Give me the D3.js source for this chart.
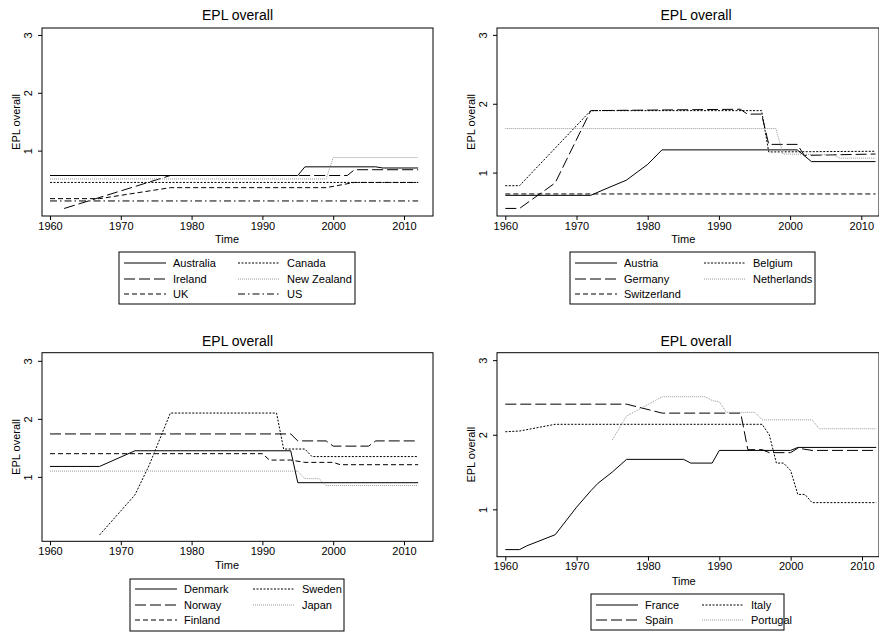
<!DOCTYPE html>
<html>
<head>
<meta charset="utf-8">
<script src="https://cdn.jsdelivr.net/npm/d3@7"></script>
<style>
body { margin: 0; background: #fff; }
svg text { font-family: "Liberation Sans", Arimo, Arial, sans-serif !important; fill: #000; }
</style>
</head>
<body>
<div id="chart"></div>
<script>
// ---- data: [years], [values] per country ----
const australia_years = [1960, 1995, 1996, 2006, 2007, 2012]
const australia_vals  = [0.57, 0.57, 0.72, 0.72, 0.70, 0.70]
const canada_years = [1960, 2012]
const canada_vals  = [0.45, 0.45]
const ireland_years = [1962, 1977, 2002, 2003, 2012]
const ireland_vals  = [0.00, 0.57, 0.57, 0.67, 0.67]
const nz_years = [1960, 1999, 2000, 2012]
const nz_vals  = [0.51, 0.51, 0.88, 0.88]
const uk_years = [1960, 1967, 1977, 1999, 2003, 2012]
const uk_vals  = [0.17, 0.17, 0.36, 0.36, 0.45, 0.45]
const us_years = [1960, 2012]
const us_vals  = [0.13, 0.13]

const austria_years = [1960, 1972, 1974, 1977, 1980, 1982, 2001, 2003, 2012]
const austria_vals  = [0.67, 0.67, 0.76, 0.89, 1.12, 1.33, 1.33, 1.16, 1.16]
const belgium_years = [1960, 1962, 1972, 1996, 1997, 2012]
const belgium_vals  = [0.81, 0.81, 1.90, 1.90, 1.30, 1.31]
const germany_years = [1960, 1962, 1967, 1972, 1993, 1994, 1996, 1997, 2001, 2002, 2012]
const germany_vals  = [0.48, 0.48, 0.85, 1.90, 1.92, 1.85, 1.85, 1.41, 1.41, 1.25, 1.27]
const netherlands_years = [1960, 1998, 1999, 2006, 2007, 2012]
const netherlands_vals  = [1.64, 1.64, 1.27, 1.26, 1.21, 1.21]
const switzerland_years = [1960, 2012]
const switzerland_vals  = [0.69, 0.69]

const denmark_years = [1960, 1967, 1972, 1994, 1995, 2012]
const denmark_vals  = [1.18, 1.18, 1.45, 1.45, 0.90, 0.90]
const norway_years = [1960, 1994, 1995, 1999, 2000, 2005, 2006, 2012]
const norway_vals  = [1.74, 1.74, 1.62, 1.62, 1.53, 1.53, 1.62, 1.62]
const finland_years = [1960, 1990, 1991, 1994, 1996, 2000, 2001, 2012]
const finland_vals  = [1.40, 1.40, 1.29, 1.29, 1.25, 1.25, 1.21, 1.21]
const sweden_years = [1967, 1972, 1974, 1977, 1992, 1993, 1996, 1997, 2012]
const sweden_vals  = [0.00, 0.69, 1.20, 2.10, 2.10, 1.48, 1.48, 1.35, 1.35]
const japan_years = [1960, 1995, 1996, 1998, 1999, 2012]
const japan_vals  = [1.10, 1.10, 0.97, 0.97, 0.85, 0.85]

const france_years = [1960, 1962, 1963, 1967, 1970, 1972, 1973, 1975, 1977, 1985, 1986, 1989, 1990, 2000, 2001, 2012]
const france_vals  = [0.46, 0.46, 0.51, 0.66, 1.03, 1.25, 1.35, 1.50, 1.67, 1.67, 1.62, 1.62, 1.79, 1.79, 1.83, 1.83]
const spain_years = [1960, 1977, 1982, 1993, 1994, 1996, 1997, 2000, 2001, 2003, 2012]
const spain_vals  = [2.41, 2.41, 2.29, 2.29, 1.80, 1.80, 1.76, 1.76, 1.82, 1.79, 1.79]
const italy_years = [1960, 1962, 1967, 1996, 1997, 1998, 1999, 2000, 2001, 2002, 2003, 2012]
const italy_vals  = [2.04, 2.05, 2.14, 2.14, 2.00, 1.62, 1.62, 1.52, 1.20, 1.20, 1.09, 1.09]
const portugal_years = [1975, 1977, 1982, 1988, 1989, 1990, 1991, 1995, 1996, 2003, 2004, 2012]
const portugal_vals  = [1.93, 2.25, 2.51, 2.51, 2.46, 2.44, 2.30, 2.30, 2.20, 2.20, 2.08, 2.08]

const x_ticks = [1960, 1970, 1980, 1990, 2000, 2010]
const y_ticks = [1, 2, 3]

// line styles
const st = {
    solid:  {dash: null,        color: "#000"},
    longd:  {dash: "11,4",      color: "#000"},
    dot:    {dash: "2,1.5",     color: "#000"},
    faint:  {dash: "1,1",       color: "#999"},
    dash:   {dash: "5,3",       color: "#000"},
    dashdot:{dash: "7,3,1.5,3", color: "#000"}
}

const panels = [
    {left: 42, right: 433, top: 28, bottom: 216, x0: 50, x1: 404, ymin: -0.13, ymax: 3.12,
     title_y: 20, time_y: 243,
     leg: {x: 119, y: 252, w: 236, h: 52, c2: 114, rows: [263, 279, 294]},
     series: [
        ["Australia", australia_years, australia_vals, st.solid],
        ["Canada", canada_years, canada_vals, st.dot],
        ["Ireland", ireland_years, ireland_vals, st.longd],
        ["New Zealand", nz_years, nz_vals, st.faint],
        ["UK", uk_years, uk_vals, st.dash],
        ["US", us_years, us_vals, st.dashdot]]},
    {left: 497, right: 879, top: 28, bottom: 216, x0: 505.3, x1: 861.3, ymin: 0.37, ymax: 3.10,
     title_y: 20, time_y: 243,
     leg: {x: 570, y: 252, w: 245, h: 52, c2: 129, rows: [263, 279, 294]},
     series: [
        ["Austria", austria_years, austria_vals, st.solid],
        ["Belgium", belgium_years, belgium_vals, st.dot],
        ["Germany", germany_years, germany_vals, st.longd],
        ["Netherlands", netherlands_years, netherlands_vals, st.faint],
        ["Switzerland", switzerland_years, switzerland_vals, st.dash]]},
    {left: 42, right: 433, top: 352.7, bottom: 541.3, x0: 50, x1: 404, ymin: -0.11, ymax: 3.14,
     title_y: 346, time_y: 569,
     leg: {x: 130, y: 579, w: 214, h: 52, c2: 118, rows: [589, 605, 620]},
     series: [
        ["Denmark", denmark_years, denmark_vals, st.solid],
        ["Sweden", sweden_years, sweden_vals, st.dot],
        ["Norway", norway_years, norway_vals, st.longd],
        ["Japan", japan_years, japan_vals, st.faint],
        ["Finland", finland_years, finland_vals, st.dash]]},
    {left: 497, right: 879, top: 352.7, bottom: 556.7, x0: 505.3, x1: 862, ymin: 0.365, ymax: 3.10,
     title_y: 346, time_y: 585,
     leg: {x: 591, y: 594, w: 193, h: 36, c2: 106, rows: [605, 620]},
     series: [
        ["France", france_years, france_vals, st.solid],
        ["Italy", italy_years, italy_vals, st.dot],
        ["Spain", spain_years, spain_vals, st.longd],
        ["Portugal", portugal_years, portugal_vals, st.faint]]}
]

const svg = d3.select("#chart").append("svg")
    .attr("width", 879).attr("height", 635)
    .attr("font-family", "Liberation Sans")

panels.forEach(function(p) {
    const x = d3.scaleLinear().domain([1960, 2010]).range([p.x0, p.x1])
    const y = d3.scaleLinear().domain([p.ymin, p.ymax]).range([p.bottom, p.top])
    const g = svg.append("g")

    g.append("text").attr("x", (p.left + Math.min(p.right, 879)) / 2 + (p.right > 870 ? 8 : 0))
        .attr("y", p.title_y).attr("text-anchor", "middle")
        .style("font-size", "14px").text("EPL overall")

    // series
    p.series.forEach(function(s) {
        const pts = s[1].map((yr, i) => [yr, s[2][i]])
        g.append("path").datum(pts)
            .attr("fill", "none")
            .attr("stroke", s[3].color)
            .attr("stroke-width", 1)
            .attr("stroke-dasharray", s[3].dash)
            .attr("d", d3.line().x(d => x(d[0])).y(d => y(d[1])))
    })

    // box
    g.append("rect").attr("x", p.left).attr("y", p.top)
        .attr("width", p.right - p.left).attr("height", p.bottom - p.top)
        .attr("fill", "none").attr("stroke", "#000").attr("stroke-width", 1)

    g.append("g").attr("transform", "translate(0," + p.bottom + ")")
        .call(d3.axisBottom(x).tickValues(x_ticks).tickFormat(d3.format("d"))
            .tickSizeInner(4).tickSizeOuter(0).tickPadding(2))
        .call(a => a.select(".domain").remove())
        .selectAll("text").style("font-size", "11px")

    const ya = g.append("g").attr("transform", "translate(" + p.left + ",0)")
        .call(d3.axisLeft(y).tickValues(y_ticks).tickFormat(d3.format("d"))
            .tickSizeInner(4).tickSizeOuter(0))
    ya.select(".domain").remove()
    ya.selectAll(".tick text").attr("x", -10).attr("dy", 0)
        .attr("text-anchor", "middle")
        .attr("transform", "rotate(-90,-10,0)")
        .style("font-size", "11px")

    g.append("text").attr("x", (p.x0 + p.x1) / 2).attr("y", p.time_y)
        .attr("text-anchor", "middle").style("font-size", "11px").text("Time")
    g.append("text")
        .attr("transform", "translate(" + (p.left - 22) + "," + ((p.top + p.bottom) / 2) + ") rotate(-90)")
        .attr("text-anchor", "middle").style("font-size", "11px").text("EPL overall")

    // legend
    const L = p.leg
    g.append("rect").attr("x", L.x).attr("y", L.y).attr("width", L.w).attr("height", L.h)
        .attr("fill", "#fff").attr("stroke", "#000")
    p.series.forEach(function(s, i) {
        const col = i % 2, row = Math.floor(i / 2)
        const sx = L.x + 5 + col * L.c2
        const ry = L.rows[row]
        g.append("line").attr("x1", sx).attr("x2", sx + 42).attr("y1", ry).attr("y2", ry)
            .attr("stroke", s[3].color).attr("stroke-dasharray", s[3].dash)
        g.append("text").attr("x", sx + 49).attr("y", ry + 4)
            .style("font-size", "11px").text(s[0])
    })
})
</script>
</body>
</html>
